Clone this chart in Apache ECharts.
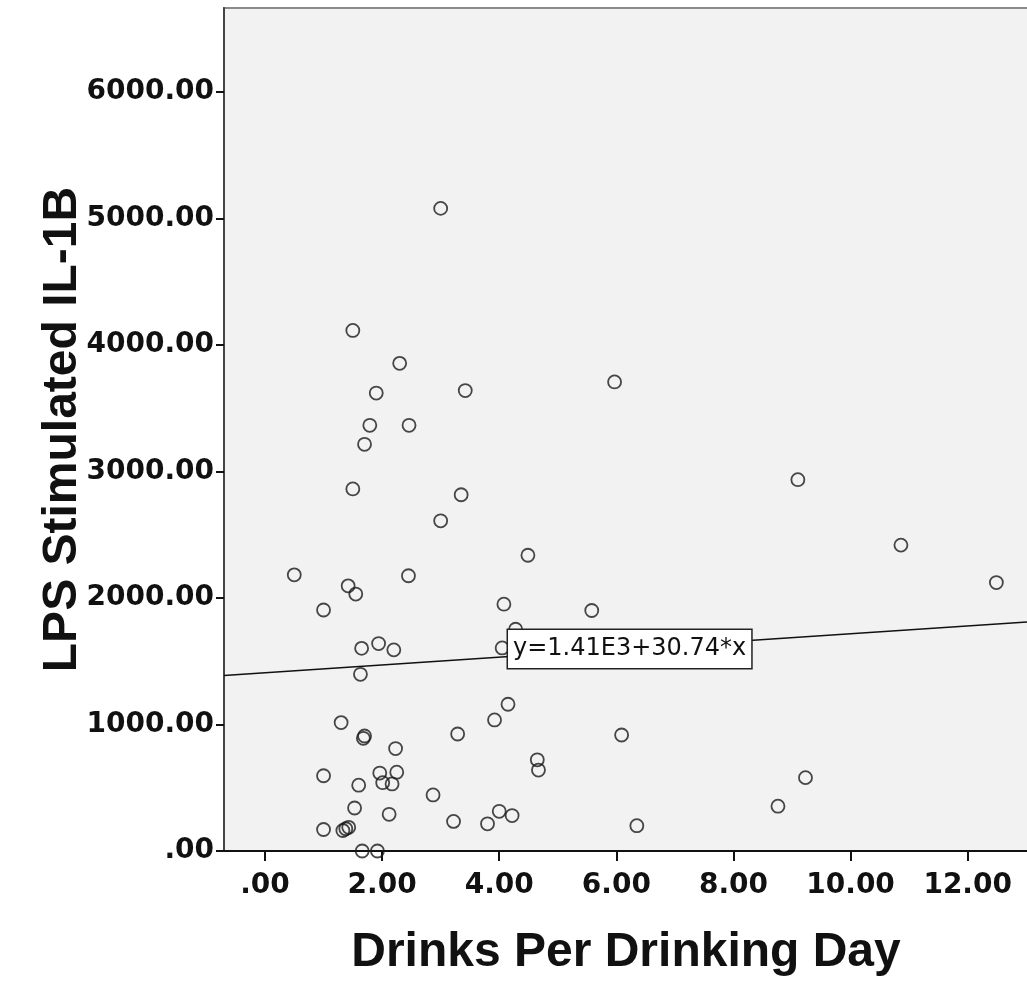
<!DOCTYPE html>
<html>
<head>
<meta charset="utf-8">
<title>LPS Stimulated IL-1B</title>
<script src="https://cdn.jsdelivr.net/npm/echarts@6/dist/echarts.min.js"></script>
<style>
  html, body { margin: 0; padding: 0; background: #fff; }
  #chart { width: 1027px; height: 981px; }
</style>
</head>
<body>
<div id="chart"></div>
<script>
// values
const drinks = [
  3.00, 1.50, 2.30, 1.90, 3.42, 5.97, 1.79, 2.46, 1.70, 9.10,
  1.50, 3.35, 3.00, 4.49, 10.86, 12.49, 0.50, 1.42, 1.55, 2.45,
  1.00, 4.08, 5.58, 1.65, 1.94, 2.20, 1.63, 4.05, 4.28, 1.30,
  1.68, 1.70, 2.23, 3.29, 3.92, 4.15, 6.09, 4.65, 4.67, 1.00,
  1.60, 1.96, 2.25, 2.01, 2.17, 2.87, 1.53, 2.12, 9.23, 8.76,
  1.00, 1.33, 1.38, 1.43, 3.22, 3.80, 4.00, 4.22, 6.35, 1.66,
  1.92
];
const il1b = [
  5080, 4115, 3855, 3620, 3640, 3708, 3365, 3365, 3215, 2935,
  2862, 2816, 2610, 2338, 2418, 2122, 2183, 2096, 2031, 2176,
  1905, 1951, 1901, 1602, 1640, 1590, 1397, 1605, 1753, 1015,
  891, 909, 810, 925, 1036, 1160, 917, 721, 640, 595,
  520, 616, 623, 540, 530, 443, 340, 290, 580, 354,
  170, 162, 176, 187, 234, 215, 314, 280, 200, 0,
  0
];

const xTicks = [0, 2, 4, 6, 8, 10, 12];
const yTicks = [0, 1000, 2000, 3000, 4000, 5000, 6000];

// fit line as drawn (ends at the plot edges) and its label
const fitX = [-0.7, 13.03];
const fitY = [1388, 1811];
const fitText = 'y=1.41E3+30.74*x';
const fitLabelAt = [4.15, 1597];

// SPSS style: 2000 -> "2000.00", 0 -> ".00"
const fmt = v => v.toFixed(2).replace(/^0(?=\.)/, '');

const tickFont = { fontFamily: 'DejaVu Sans', fontWeight: 'bold', fontSize: 28, color: '#111' };
const titleFont = { fontFamily: 'Liberation Sans', fontWeight: 'bold', fontSize: 48, color: '#111' };

const chart = echarts.init(document.getElementById('chart'));

chart.setOption({
  animation: false,
  backgroundColor: '#fff',
  grid: {
    left: 224,
    right: -1,
    top: 8,
    bottom: 130,
    outerBoundsMode: 'none',
    show: true,
    backgroundColor: '#f2f2f2',
    borderColor: '#8a8a8a',
    borderWidth: 2
  },
  xAxis: {
    type: 'value',
    min: -0.7,
    max: 13.03,
    name: 'Drinks Per Drinking Day',
    nameLocation: 'middle',
    nameGap: 78,
    nameMoveOverlap: false,
    nameTextStyle: titleFont,
    axisLine: { show: true, onZero: false, lineStyle: { color: '#111', width: 2 } },
    axisTick: { show: true, length: 10, customValues: xTicks, lineStyle: { color: '#111', width: 2 } },
    axisLabel: Object.assign({ customValues: xTicks, formatter: fmt, margin: 21 }, tickFont),
    splitLine: { show: false }
  },
  yAxis: {
    type: 'value',
    min: 0,
    max: 6664,
    name: 'LPS Stimulated IL-1B',
    nameLocation: 'middle',
    nameGap: 137,
    nameMoveOverlap: false,
    nameTextStyle: titleFont,
    axisLine: { show: true, onZero: false, lineStyle: { color: '#444', width: 2 } },
    axisTick: { show: true, length: 8, customValues: yTicks, lineStyle: { color: '#111', width: 2 } },
    axisLabel: Object.assign({ customValues: yTicks, formatter: fmt, margin: 10 }, tickFont),
    splitLine: { show: false }
  },
  series: [
    {
      type: 'scatter',
      z: 2,
      symbol: 'circle',
      symbolSize: 13,
      itemStyle: { color: 'rgba(0,0,0,0)', borderColor: '#1a1a1a', borderWidth: 1.8 },
      data: drinks.map((d, i) => [d, il1b[i]])
    },
    {
      type: 'line',
      z: 3,
      showSymbol: false,
      silent: true,
      lineStyle: { color: '#111', width: 1.5 },
      data: fitX.map((x, i) => [x, fitY[i]]),
      markPoint: {
        symbol: 'rect',
        symbolSize: 0,
        silent: true,
        data: [{ coord: fitLabelAt }],
        label: {
          show: true,
          position: 'right',
          distance: 0,
          formatter: fitText,
          fontFamily: 'DejaVu Sans',
          fontSize: 24,
          color: '#111',
          backgroundColor: '#fff',
          borderColor: '#222',
          borderWidth: 1.5,
          padding: [8, 5, 6, 5]
        }
      }
    }
  ]
});
</script>
</body>
</html>
